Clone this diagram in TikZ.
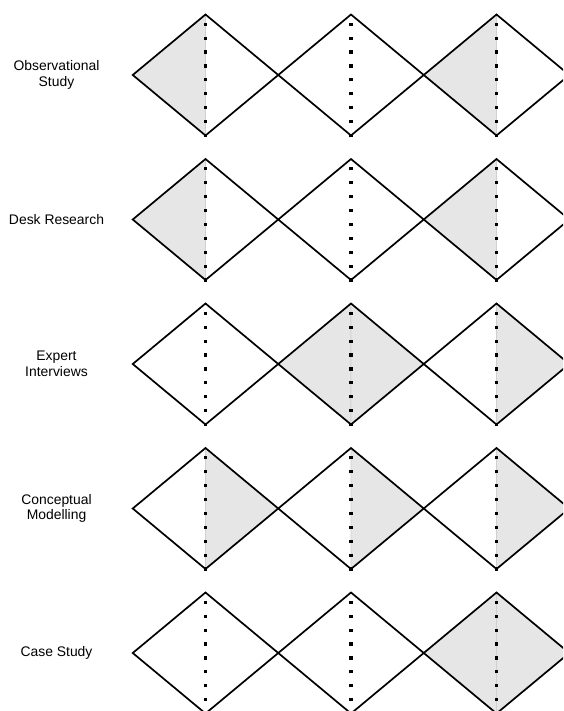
\documentclass[tikz,border=0pt]{standalone}
\usepackage{fontspec}
\setmainfont{Liberation Sans}
\definecolor{halfgray}{HTML}{E6E6E6}
\definecolor{edgegray}{HTML}{D0D0D0}
\begin{document}
\begin{tikzpicture}[x=1pt,y=-1pt,
  outline/.style={line width=1.7pt, line join=miter},
  shadehalf/.style={fill=halfgray, draw=edgegray, line width=0.8pt},
  axisdots/.style={line width=3.2pt, dash pattern=on 3.2pt off 10.7pt},
  rowlabel/.style={align=center, font=\fontsize{13.9}{15.5}\selectfont, inner sep=0pt}]
\useasboundingbox (0,0) rectangle (563,711);
\clip (0,0) rectangle (563,711);
% shading codes: 0 none, 1 left half, 2 right half, 3 whole diamond
\foreach \r/\y/\sa/\sb/\sc/\txt in {
  1/75/1/0/1/{Observational\\Study},
  2/219.5/1/0/1/{Desk Research},
  3/364/0/3/2/{Expert\\Interviews},
  4/508.5/2/2/2/{Conceptual\\Modelling},
  5/653/0/0/3/{Case Study}}{
  \node[rowlabel] (label\r) at (56.5,\y) {\txt};
  \foreach \c/\x/\s in {1/205.5/\sa, 2/351/\sb, 3/496.5/\sc}{
    \coordinate (d\r\c) at (\x,\y);
    \coordinate (d\r\c-t) at (\x,\y-60.5);
    \coordinate (d\r\c-b) at (\x,\y+60.5);
    \coordinate (d\r\c-l) at (\x-72.75,\y);
    \coordinate (d\r\c-r) at (\x+72.75,\y);
    \ifnum\s=1 \draw[shadehalf] (d\r\c-t) -- (d\r\c-l) -- (d\r\c-b) -- cycle; \fi
    \ifnum\s=2 \draw[shadehalf] (d\r\c-t) -- (d\r\c-r) -- (d\r\c-b) -- cycle; \fi
    \ifnum\s=3
      \draw[shadehalf] (d\r\c-t) -- (d\r\c-l) -- (d\r\c-b) -- cycle;
      \draw[shadehalf] (d\r\c-t) -- (d\r\c-r) -- (d\r\c-b) -- cycle;
    \fi
    \draw[axisdots] ([yshift=-1.6pt]d\r\c-b) -- (d\r\c-t);
    \draw[outline] (d\r\c-t) -- (d\r\c-r) -- (d\r\c-b) -- (d\r\c-l) -- cycle;
  }
}
\end{tikzpicture}
\end{document}
